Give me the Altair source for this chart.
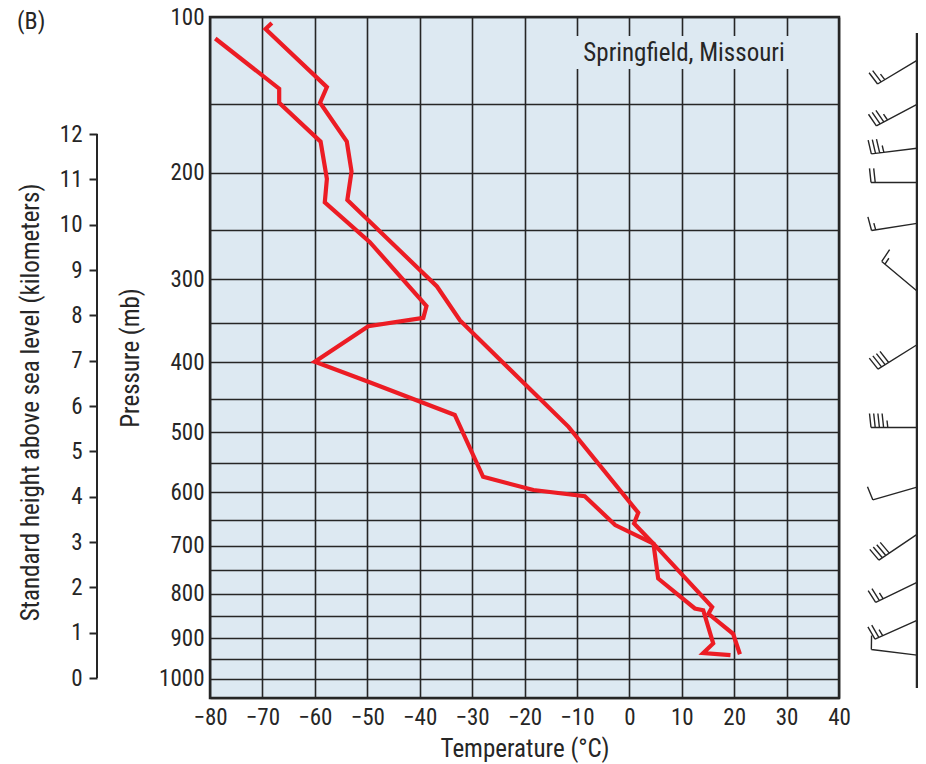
import altair as alt
import pandas as pd

# Temperature profile (right red curve)
temp_T = [-68.2, -69.4, -57.7, -59.0, -53.9, -53.0, -53.8, -36.7, -32.3, -11.6,
          1.7, 0.9, 4.6, 15.8, 15.1, 19.8, 21.1]
temp_p = [103, 106, 139, 149, 176, 199, 223, 308, 347, 492,
          637, 657, 696, 829, 844, 890, 939]

# Dew-point profile (left red curve)
dew_T = [-79.0, -66.8, -66.8, -58.9, -57.7, -58.1, -49.5, -38.7, -39.3, -49.8,
         -60.0, -49.8, -33.3, -27.9, -18.3, -8.5, -2.7, 4.6, 5.5, 12.5,
         14.1, 16.0, 14.1, 19.3]
dew_p = [111, 140, 149, 176, 205, 225, 262, 330, 344, 354,
         399, 426, 474, 573, 596, 607, 660, 696, 767, 832,
         836, 913, 936, 941]

# Axis values
temp_ticks = list(range(-80, 41, 10))
pressure_grid = list(range(100, 1051, 50))
km_ticks = list(range(0, 13))

# Wind barbs (level, speed in knots, shaft rotation in degrees)
barb_p = [123, 150, 181, 208, 244, 313, 377, 493, 591, 678, 775, 859, 941]
barb_speed = [25, 35, 35, 20, 15, 15, 40, 45, 10, 40, 25, 25, 10]
barb_angle = [329, 332, 353, 0, 351, 40, 328, 0, 344, 326, 334, 336, 7]

# ---------------- styling ----------------
FONT = "Liberation Sans Narrow, Roboto Condensed, DejaVu Sans Condensed, sans-serif"
INK = "#262626"
RED = "#ec1c24"
BG = "#dde9f2"
LABEL_SIZE = 23
TITLE_SIZE = 25

rows = []
for i, (t, p) in enumerate(zip(temp_T, temp_p)):
    rows.append({"series": "temperature", "T": t, "p": p, "i": i})
for i, (t, p) in enumerate(zip(dew_T, dew_p)):
    rows.append({"series": "dewpoint", "T": t, "p": p, "i": i})
lines_df = pd.DataFrame(rows)


def barb_path(speed, L=46, full=14, half=7, gap=4.2):
    n_full = speed // 10
    n_half = (speed % 10) // 5
    d = f"M0,0L{-L},0"
    x = -L
    for _ in range(n_full):
        d += f"M{x},0L{x - 1.5},{-full}"
        x += gap
    for _ in range(n_half):
        d += f"M{x},0L{x - 0.8},{-half}"
        x += gap
    return d


barb_df = pd.DataFrame({
    "p": barb_p,
    "path": [barb_path(s) for s in barb_speed],
    "angle": barb_angle,
})

pscale = alt.Scale(type="pow", exponent=0.286, domain=[100, 1050],
                   reverse=True, nice=False, zero=False)
km_scale = alt.Scale(domain=[-0.441, 14.581], nice=False, zero=False)

x_label_expr = ("datum.value < 0 ? '\u2212' + abs(datum.value) + '\u2007' "
                ": '' + datum.value")

lines = alt.Chart(lines_df).mark_line(
    color=RED, strokeWidth=4.2, strokeJoin="miter", strokeMiterLimit=10
).encode(
    x=alt.X("T:Q", scale=alt.Scale(domain=[-80, 40], nice=False, zero=False),
            axis=alt.Axis(values=temp_ticks, grid=True, ticks=False, domain=False,
                          labelPadding=8, labelFontSize=LABEL_SIZE, labelFont=FONT,
                          labelColor=INK, labelFlush=False, labelExpr=x_label_expr,
                          title="Temperature (°C)", titleFont=FONT,
                          titleFontSize=TITLE_SIZE,
                          titleFontWeight="normal", titleColor=INK,
                          titleBaseline="alphabetic", titleY=58,
                          gridColor=INK, gridWidth=1.6, gridOpacity=1)),
    y=alt.Y("p:Q", scale=pscale,
            axis=alt.Axis(values=pressure_grid, grid=True, ticks=False, domain=False,
                          labelExpr="datum.value % 100 == 0 ? datum.value : ''",
                          labelPadding=6, labelFontSize=LABEL_SIZE, labelFont=FONT,
                          labelColor=INK, labelOverlap=False, labelFlush=False,
                          labelBaseline="middle",
                          title="Pressure (mb)", titleFont=FONT,
                          titleFontSize=TITLE_SIZE,
                          titleFontWeight="normal", titleColor=INK,
                          titleX=-80, titleY=340.5, titleAngle=270,
                          titleAlign="center", titleBaseline="middle",
                          gridColor=INK, gridWidth=1.6, gridOpacity=1)),
    detail="series:N",
    order="i:Q",
)

km_df = pd.DataFrame({"k0": [km_ticks[0]], "k1": [km_ticks[-1]]})
km_axis = alt.Chart(km_df).mark_rule(color=INK, strokeWidth=2).encode(
    x=alt.value(-113),
    y=alt.Y("k0:Q", scale=km_scale,
            axis=alt.Axis(orient="left", offset=113, values=km_ticks, grid=False,
                          domain=False, ticks=True, tickSize=8, tickWidth=2,
                          tickColor=INK, labelPadding=7, labelFontSize=LABEL_SIZE,
                          labelFont=FONT, labelColor=INK, labelFlush=False,
                          labelOverlap=False,
                          title="Standard height above sea level (kilometers)",
                          titleFont=FONT, titleFontSize=TITLE_SIZE,
                          titleFontWeight="normal",
                          titleColor=INK, titleX=-67, titleY=385, titleAngle=270,
                          titleAlign="center", titleBaseline="middle")),
    y2="k1:Q",
)

barbs = alt.Chart(barb_df).mark_point(
    filled=False, color=INK, strokeWidth=1.4, size=4, opacity=1
).encode(
    x=alt.value(707),
    y=alt.Y("p:Q", scale=pscale, axis=None),
    shape=alt.Shape("path:N", scale=None),
    angle=alt.Angle("angle:Q", scale=None),
)

one = pd.DataFrame({"a": [0]})
staff = alt.Chart(one).mark_rule(color=INK, strokeWidth=2.5).encode(
    x=alt.value(707), y=alt.value(16), y2=alt.value(671)
)

label_box = alt.Chart(one).mark_rect(fill=BG).encode(
    x=alt.value(362), x2=alt.value(582), y=alt.value(19), y2=alt.value(52)
)
label_text = alt.Chart(one).mark_text(
    text="Springfield, Missouri", font=FONT, fontSize=TITLE_SIZE, color=INK,
    align="center", baseline="middle"
).encode(x=alt.value(474), y=alt.value(35.5))

panel_text = alt.Chart(one).mark_text(
    text="(B)", font=FONT, fontSize=24, color=INK, align="left",
    baseline="middle"
).encode(x=alt.value(-193), y=alt.value(5))

chart = alt.layer(
    lines, km_axis, barbs, staff, label_box, label_text, panel_text
).resolve_scale(
    y="independent"
).properties(
    width=629, height=681,
    padding={"left": 202, "top": 9, "right": 79, "bottom": 66},
    autosize=alt.AutoSizeParams(type="none"),
).configure_view(
    fill=BG, stroke=INK, strokeWidth=2.5
)

chart.save("out.html", embed_options={"renderer": "svg", "actions": False})
